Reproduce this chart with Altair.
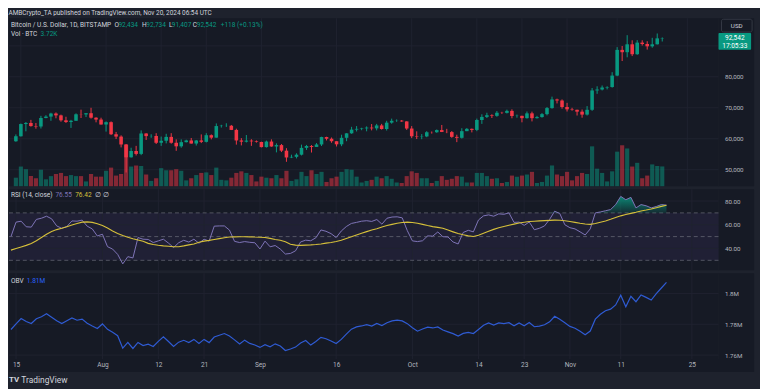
import altair as alt
import pandas as pd

# ---------------- data ----------------
dates = pd.date_range("2024-07-14", "2024-11-20", freq="D").strftime("%Y-%m-%d").tolist()

opens = [59200, 60800, 64750, 65100, 64100, 63950, 66700, 67150, 68150, 67550, 65950, 65400, 65800, 67900, 67850, 68250, 66800, 66200,
         64600, 65350, 61450, 60700, 58150, 54000, 56050, 55100, 61700, 60850, 60900, 58700, 59350, 60600, 58700, 57550, 58900, 59450,
         58450, 59450, 59000, 61150, 60350, 64100, 64200, 64200, 62850, 59450, 59050, 59400, 59150,
         58950, 57300, 59100, 57500, 57950, 56150, 53950, 54150, 54850, 57050, 57650, 57350, 58150, 60550, 60000, 59200, 58200, 60300,
         61750, 62950, 63200, 63350, 63600, 63350, 64300, 63150, 65200, 65800, 65850, 65600,
         63300, 60800, 60650, 60750, 62100, 62100, 62800, 62200, 62150, 60600, 60300, 62450, 63200, 62850, 66050, 67050, 67600, 67400,
         68400, 68350, 69000, 67350, 67400, 66650, 68200, 66650, 67000, 67950, 69900, 72700, 72350,
         70250, 69500, 69350, 68750, 67800, 69350, 75600, 75900, 76550, 76700, 80400, 88700, 87950, 90500, 87300, 91050, 90600, 89850,
         90500, 92434]
highs = [61400, 64900, 65400, 66100, 65100, 67400, 67600, 68400, 68500, 67800, 67100, 66100, 68200, 69400, 68300, 70000, 66950, 66800,
         65600, 65600, 62200, 61100, 58300, 57100, 57700, 62700, 61800, 61450, 61800, 60700, 61600, 61800, 59800, 59800, 59700, 60250,
         59600, 61400, 61800, 61400, 64950, 64500, 65000, 64450, 63250, 60200, 61200, 59850, 59450,
         59050, 59400, 59800, 58500, 58300, 56950, 54850, 55300, 58100, 58000, 57950, 58600, 60650, 60650, 60400, 59200, 61300, 61800,
         63850, 64100, 63550, 64000, 64750, 64800, 64800, 65800, 66500, 66250, 66050, 65650,
         64100, 62400, 61500, 62450, 62350, 63000, 64450, 63200, 62500, 61300, 63400, 63450, 63300, 66500, 67900, 68400, 67900, 68950,
         68700, 69400, 69500, 67800, 67450, 68800, 68750, 67400, 68300, 70250, 73600, 72950, 72700,
         71600, 70000, 69400, 69450, 70550, 76400, 76950, 77200, 76950, 81500, 89600, 89950, 93450, 91800, 91850, 91800, 91500, 92600,
         94000, 92734]
lows = [59000, 60700, 62400, 63900, 63250, 63300, 66600, 65800, 66600, 65500, 65100, 63500, 65800, 66700, 67000, 66500, 65300, 64550,
        62300, 61200, 59900, 57200, 49100, 53900, 54600, 54700, 59600, 60300, 58300, 57700, 58500, 58400, 56100, 57100, 58800, 58400,
        57800, 58600, 58800, 59800, 60350, 63600, 63800, 62800, 58100, 57850, 58800, 57700, 58750,
        57200, 57150, 57400, 55600, 55700, 52550, 53750, 53650, 54600, 56400, 55550, 57350, 57650, 59450, 58700, 57500, 57600, 59200,
        61600, 62350, 62750, 62400, 62700, 62700, 62950, 62650, 64850, 65450, 65450, 62850,
        60200, 59900, 59850, 60500, 61650, 61900, 62150, 61800, 60300, 58900, 60050, 62450, 62050, 62450, 64800, 66700, 66700, 67100,
        68000, 68150, 66600, 66800, 65300, 66500, 65600, 66500, 66800, 67550, 69700, 71400, 69700,
        68800, 69050, 67500, 66800, 67500, 69000, 74500, 75600, 75950, 76500, 80200, 85100, 86300, 86700, 87100, 90100, 88800, 89400,
        90450, 91407]
closes = [60800, 64750, 65100, 64100, 63950, 66700, 67150, 68150, 67550, 65950, 65400, 65800, 67900, 67850, 68250, 66800, 66200, 64600,
          65350, 61450, 60700, 58150, 54000, 56050, 55100, 61700, 60850, 60900, 58700, 59350, 60600, 58700, 57550, 58900, 59450, 58450,
          59450, 59000, 61150, 60350, 64100, 64200, 64220, 62850, 59450, 59050, 59400, 59150, 58950,
          57300, 59100, 57500, 57950, 56150, 53950, 54150, 54850, 57050, 57650, 57350, 58150, 60550, 60000, 59200, 58200, 60300, 61750,
          62950, 63200, 63350, 63600, 63350, 64300, 63150, 65200, 65800, 65850, 65600, 63300,
          60800, 60650, 60750, 62100, 62080, 62800, 62200, 62150, 60600, 60300, 62450, 63200, 62850, 66050, 67050, 67600, 67400, 68400,
          68350, 69000, 67350, 67400, 66650, 68200, 66650, 67000, 67950, 69900, 72700, 72350, 70250,
          69500, 69350, 68750, 67800, 69350, 75600, 75900, 76550, 76700, 80400, 88700, 87950, 90500, 87300, 91050, 90600, 89850, 90500,
          92424, 92542]
volumes_k = [1.6, 3.7, 3.2, 1.9, 1.5, 3.1, 1.3, 1.9, 2.3, 2.5,
             1.9, 2.1, 1.9, 1.9, 0.9, 2.3, 1.8, 1.8, 2.9, 3.5,
             2.0, 2.3, 7.8, 3.7, 3.9, 3.8, 2.2, 1.0, 1.5, 3.4,
             3.0, 3.0, 3.2, 2.9, 1.1, 1.5, 2.1, 2.5, 2.6, 2.1,
             3.5, 1.2, 1.1, 1.6, 2.5, 2.8, 2.5, 2.1, 0.9, 1.8,
             1.6, 1.5, 2.1, 1.5, 2.9, 1.0, 1.3, 2.7, 1.9, 3.0,
             2.3, 2.7, 0.8, 1.5, 1.8, 2.7, 3.2, 3.1, 1.8, 0.7,
             1.0, 1.2, 1.8, 1.5, 1.9, 1.4, 0.7, 0.6, 1.9, 2.8,
             2.5, 1.5, 1.5, 0.6, 1.0, 1.9, 1.2, 1.4, 1.9, 1.8,
             0.7, 0.7, 2.5, 2.5, 1.9, 1.4, 1.5, 0.6, 0.8, 2.0,
             1.8, 2.0, 2.2, 2.7, 0.6, 0.8, 2.0, 3.9, 2.2, 1.9,
             2.7, 1.1, 1.9, 2.5, 2.3, 7.5, 3.3, 2.5, 0.9, 2.8,
             6.5, 7.7, 7.1, 3.7, 4.4, 1.5, 2.0, 4.1, 3.8, 3.72]
rsi = [50.0, 62.2, 63.0, 58.3, 58.0, 64.5, 65.5, 67.2, 65.0, 59.0,
       57.0, 58.5, 63.2, 63.0, 63.9, 58.8, 56.5, 50.5, 52.0, 41.5,
       39.5, 35.0, 27.0, 33.1, 32.0, 49.2, 47.8, 47.6, 45.0, 46.4,
       47.8, 44.5, 40.8, 44.8, 46.9, 45.4, 47.8, 44.4, 47.8, 46.2,
       58.8, 59.0, 59.0, 55.5, 46.0, 45.0, 45.8, 45.2, 44.8, 39.6,
       46.2, 41.4, 42.5, 39.5, 35.3, 35.8, 38.0, 45.5, 47.0, 46.5,
       49.0, 55.6, 54.5, 52.5, 49.2, 54.7, 58.5, 61.1, 62.0, 63.0,
       63.4, 62.8, 64.4, 60.5, 65.5, 66.5, 66.7, 65.8, 55.0, 46.4,
       45.8, 46.5, 50.6, 50.4, 53.9, 49.9, 49.7, 45.5, 43.8, 53.5,
       55.3, 54.0, 64.0, 67.5, 68.3, 67.2, 69.2, 68.8, 70.0, 62.0,
       62.2, 59.5, 62.3, 55.8, 57.0, 59.0, 64.5, 71.4, 69.5, 60.0,
       57.5, 56.5, 54.0, 51.4, 56.5, 70.0, 70.8, 71.8, 72.8, 77.0,
       83.9, 81.1, 83.1, 74.2, 77.0, 76.0, 74.2, 75.4, 77.0, 76.55]
rsi_ma = [38.6, 40.0, 41.3, 42.6, 44.2, 46.5, 49.2, 52.0, 54.3, 55.9,
          57.0, 58.4, 59.7, 61.1, 62.2, 62.4, 62.0, 60.8, 59.3, 57.2,
          54.8, 52.7, 50.9, 49.4, 48.2, 47.2, 46.0, 44.3, 43.3, 42.7,
          42.2, 41.8, 41.4, 41.5, 42.2, 43.0, 43.8, 45.2, 46.2, 46.8,
          47.6, 48.3, 49.0, 49.6, 49.8, 49.9, 49.9, 49.8, 49.6, 49.5,
          49.2, 48.5, 47.6, 46.9, 45.6, 43.6, 42.8, 42.6, 42.8, 43.0,
          43.3, 43.8, 44.5, 45.1, 45.8, 47.0, 48.4, 49.8, 51.4, 52.8,
          54.2, 55.5, 56.6, 58.1, 59.3, 60.3, 61.2, 61.9, 62.2, 61.9,
          61.2, 60.3, 59.3, 58.4, 57.8, 57.0, 55.5, 54.0, 52.6, 51.5,
          50.6, 50.1, 51.2, 52.8, 54.5, 56.1, 57.4, 58.6, 59.6, 60.5,
          61.4, 62.1, 62.7, 63.0, 63.3, 63.5, 63.7, 63.9, 63.8, 63.3,
          62.7, 62.0, 61.2, 60.6, 60.3, 61.0, 62.1, 63.2, 64.6, 66.2,
          67.5, 68.6, 69.6, 70.5, 71.6, 72.4, 73.3, 74.4, 75.5, 76.42]
obv_k = [1776.6, 1780.3, 1783.7, 1781.8, 1780.5, 1783.6, 1784.9, 1786.8, 1784.5, 1782.2,
         1780.4, 1782.3, 1784.1, 1782.6, 1783.3, 1780.6, 1778.9, 1777.3, 1780.2, 1776.7,
         1774.8, 1772.6, 1764.5, 1768.2, 1764.3, 1768.2, 1766.2, 1767.1, 1765.6, 1768.9,
         1771.9, 1768.8, 1765.6, 1768.4, 1769.6, 1768.2, 1770.2, 1767.6, 1770.2, 1768.1,
         1771.7, 1772.9, 1774.0, 1772.4, 1769.9, 1767.2, 1769.7, 1767.6, 1766.6, 1765.0,
         1766.8, 1765.4, 1767.3, 1765.9, 1763.0, 1764.0, 1765.2, 1767.8, 1769.5, 1766.5,
         1768.8, 1771.5, 1770.6, 1769.1, 1767.5, 1770.2, 1773.6, 1776.8, 1778.3, 1778.9,
         1779.8, 1778.8, 1780.5, 1779.2, 1781.0, 1782.2, 1782.7, 1782.2, 1780.4, 1777.8,
         1775.5, 1776.9, 1778.1, 1777.6, 1778.3, 1776.3, 1775.1, 1773.9, 1772.4, 1774.1,
         1774.7, 1774.0, 1776.6, 1779.3, 1780.9, 1779.5, 1780.9, 1780.4, 1781.0, 1779.0,
         1780.9, 1779.0, 1781.1, 1778.4, 1778.8, 1779.7, 1781.6, 1785.2, 1783.2, 1781.0,
         1778.6, 1777.4, 1775.5, 1773.2, 1775.6, 1783.3, 1786.5, 1788.8, 1789.8, 1792.5,
         1798.8, 1791.3, 1798.1, 1794.6, 1799.0, 1797.4, 1795.7, 1799.9, 1803.5, 1807.2]

x_tick_dates = ["2024-07-15", "2024-08-01", "2024-08-12", "2024-08-21", "2024-09-01", "2024-09-16",
                "2024-10-01", "2024-10-14", "2024-10-23", "2024-11-01", "2024-11-11", "2024-11-25"]
price_ticks = [50000, 60000, 70000, 80000, 90000]
rsi_ticks = [40, 60, 80]
rsi_levels = [70, 50, 30]
obv_ticks = [1.76, 1.78, 1.80]
countdown = "17:05:33"
header = "AMBCrypto_TA published on TradingView.com, Nov 20, 2024 06:54 UTC"

# ---------------- style ----------------
FONT = "Roboto"
BG = "#161a25"
FRAME = "#1e222d"
GREEN = "#089981"
RED = "#f23645"
TXT = "#d1d4dc"
AXTXT = "#b2b5be"
GRID = "#1f2330"
RSI_C = "#7f75b8"
MA_C = "#d6c03a"
OBV_C = "#2f5bd3"
FS = 6.6

W = 718
AXW = 36
H_PRICE, H_RSI, H_OBV = 170, 82, 87


def ms(s):
    return int(pd.Timestamp(s, tz="UTC").value // 10**6)


x_scale = alt.Scale(type="utc", domain=[ms("2024-07-13 14:40"), ms("2024-11-30 05:45")])
X = alt.X("date:T", scale=x_scale, axis=None)

df = pd.DataFrame({"date": dates, "open": opens, "high": highs, "low": lows, "close": closes,
                   "vol": volumes_k, "rsi": rsi, "ma": rsi_ma, "obv": [v / 1000 for v in obv_k]})
ONE = pd.DataFrame({"k": [0]})
ticks_df = pd.DataFrame({"date": x_tick_dates})

updown = alt.condition("datum.close >= datum.open", alt.value(GREEN), alt.value(RED))


def txt(s, x, y, color=TXT, size=FS, align="left", weight="normal"):
    return alt.Chart(ONE).mark_text(text=s, align=align, baseline="middle", color=color, fontSize=size,
                                    font=FONT, fontWeight=weight).encode(x=alt.value(x), y=alt.value(y))


def column_rect(h):
    return alt.Chart(ONE).mark_rect(color=BG).encode(
        x=alt.value(W), x2=alt.value(W + AXW), y=alt.value(0), y2=alt.value(h))


def vgrid():
    return alt.Chart(ticks_df).mark_rule(color=GRID, strokeWidth=1).encode(x=X)


def right_axis(values, expr):
    return alt.Axis(orient="right", values=values, labelExpr=expr, grid=False, ticks=False, domain=False,
                    labelColor=AXTXT, labelFontSize=6.3, labelFont=FONT, labelPadding=6, labelAlign="left",
                    labelBaseline="middle", title=None, zindex=1)


# ---------------- price panel ----------------
p_scale = alt.Scale(domain=[44670, 98930], nice=False, zero=False)
p_axis = right_axis(price_ticks, "datum.value >= 90000 ? '' : format(datum.value, ',')")

hgrid_p = alt.Chart(pd.DataFrame({"p": price_ticks})).mark_rule(color=GRID, strokeWidth=1).encode(
    y=alt.Y("p:Q", scale=p_scale, axis=p_axis))
vol_bars = alt.Chart(df).mark_bar(size=4.2, opacity=0.5).encode(
    x=X, y=alt.Y("vol:Q", scale=alt.Scale(domain=[0, 31.6], nice=False, zero=True), axis=None), color=updown)
wicks = alt.Chart(df).mark_rule(strokeWidth=1).encode(
    x=X, y=alt.Y("low:Q", scale=p_scale, axis=None), y2="high:Q", color=updown)
bodies = alt.Chart(df).mark_bar(size=3.6).encode(
    x=X, y=alt.Y("open:Q", scale=p_scale, axis=None), y2="close:Q", color=updown)

last = pd.DataFrame({"price": [closes[-1]], "lbl": [f"{closes[-1]:,}"], "cd": [countdown]})
tag_rect = alt.Chart(last).mark_rect(color=GREEN, yOffset=-5, y2Offset=12, cornerRadius=1).encode(
    x=alt.value(W), x2=alt.value(W + 33), y=alt.Y("price:Q", scale=p_scale, axis=None), y2="price:Q")
tag_t1 = alt.Chart(last).mark_text(color="#ffffff", fontSize=FS, font=FONT, align="center", baseline="middle",
                                   dy=0.5).encode(
    x=alt.value(W + 16.5), y=alt.Y("price:Q", scale=p_scale, axis=None), text="lbl:N")
tag_t2 = alt.Chart(last).mark_text(color="#ffffff", fontSize=FS, font=FONT, align="center", baseline="middle",
                                   dy=8.5).encode(
    x=alt.value(W + 16.5), y=alt.Y("price:Q", scale=p_scale, axis=None), text="cd:N")
usd_rect = alt.Chart(ONE).mark_rect(fill=BG, stroke="#363a45", strokeWidth=1, cornerRadius=2).encode(
    x=alt.value(W + 3), x2=alt.value(W + 34), y=alt.value(1), y2=alt.value(14))

chg = closes[-1] - closes[-2]
pct = chg / closes[-2] * 100
legend_p = [
    txt("Bitcoin / U.S. Dollar, 1D, BITSTAMP", 2, 6.7),
    txt("O", 106.7, 6.7), txt(f"{opens[-1]:,}", 110.7, 6.7, GREEN),
    txt("H", 134.7, 6.7), txt(f"{highs[-1]:,}", 139, 6.7, GREEN),
    txt("L", 162, 6.7), txt(f"{lows[-1]:,}", 164.7, 6.7, GREEN),
    txt("C", 186, 6.7), txt(f"{closes[-1]:,}", 190, 6.7, GREEN),
    txt(f"{chg:+,} ({pct:+.2f}%)", 214.3, 6.7, GREEN),
    txt("Vol · BTC", 2, 16.3), txt(f"{volumes_k[-1]:.2f}K", 32, 16.3, GREEN),
    txt("USD", W + 18.5, 7.5, TXT, 6.3, "center"),
]

price_panel = alt.layer(
    column_rect(H_PRICE), vgrid(), hgrid_p, vol_bars, wicks, bodies, tag_rect, tag_t1, tag_t2, usd_rect,
    *legend_p
).resolve_scale(y="independent").properties(width=W, height=H_PRICE)

# ---------------- RSI panel ----------------
r_scale = alt.Scale(domain=[21.67, 90], nice=False, zero=False)
r_axis = right_axis(rsi_ticks, "format(datum.value, '.2f')")

band = alt.Chart(pd.DataFrame({"hi": [rsi_levels[0]], "lo": [rsi_levels[-1]]})).mark_rect(
    color="#7e57c2", opacity=0.1).encode(y=alt.Y("hi:Q", scale=r_scale, axis=None), y2="lo:Q")
hgrid_r = alt.Chart(pd.DataFrame({"v": rsi_ticks})).mark_rule(color=GRID, strokeWidth=1).encode(
    y=alt.Y("v:Q", scale=r_scale, axis=r_axis))
levels = alt.Chart(pd.DataFrame({"v": rsi_levels})).mark_rule(
    color="#787b86", opacity=0.6, strokeWidth=1, strokeDash=[4, 3]).encode(
    y=alt.Y("v:Q", scale=r_scale, axis=None))
ob_fill = alt.Chart(df).transform_calculate(
    ob=f"max(datum.rsi, {rsi_levels[0]})", base=f"{rsi_levels[0]}"
).mark_area(color=alt.Gradient(gradient="linear",
                               stops=[alt.GradientStop(color="rgba(8,153,129,0.85)", offset=0),
                                      alt.GradientStop(color="rgba(8,153,129,0.15)", offset=1)],
                               x1=1, x2=1, y1=0, y2=1)).encode(
    x=X, y=alt.Y("ob:Q", scale=r_scale, axis=None), y2="base:Q")
rsi_line = alt.Chart(df).mark_line(color=RSI_C, strokeWidth=1).encode(
    x=X, y=alt.Y("rsi:Q", scale=r_scale, axis=None))
ma_line = alt.Chart(df).mark_line(color=MA_C, strokeWidth=1.1).encode(
    x=X, y=alt.Y("ma:Q", scale=r_scale, axis=None))
legend_r = [
    txt("RSI (14, close)", 2, 5.5),
    txt(f"{rsi[-1]:.2f}", 47, 5.5, "#7e74b5"),
    txt(f"{rsi_ma[-1]:.2f}", 67, 5.5, MA_C),
    txt("∅", 87, 5.5, TXT), txt("∅", 95.3, 5.5, TXT),
]
rsi_panel = alt.layer(
    column_rect(H_RSI), band, vgrid(), hgrid_r, levels, ob_fill, rsi_line, ma_line, *legend_r
).resolve_scale(x="independent", y="independent").properties(width=W, height=H_RSI)

# ---------------- OBV panel ----------------
o_scale = alt.Scale(domain=[1.7574, 1.8131], nice=False, zero=False)
o_axis = right_axis(obv_ticks, "format(datum.value, '.2~f') + 'M'")
x_axis = alt.Axis(values=[ms(d) for d in x_tick_dates],
                  labelExpr="utcdate(datum.value) == 1 ? utcFormat(datum.value, '%b') : '' + utcdate(datum.value)",
                  grid=False, ticks=False, domain=False, labelColor=AXTXT, labelFontSize=FS, labelFont=FONT,
                  labelPadding=2, labelOverlap=False, labelFlush=False,
                  title="TradingView", titleX=12, titleY=21, titleAlign="left", titleAnchor="start",
                  titleBaseline="middle", titleFontSize=8.5, titleFontWeight="normal", titleColor=TXT,
                  titleFont=FONT, zindex=1)

bottom_rect = alt.Chart(ONE).mark_rect(color=BG).encode(
    x=alt.value(0), x2=alt.value(W + AXW), y=alt.value(H_OBV), y2=alt.value(H_OBV + 13))
hgrid_o = alt.Chart(pd.DataFrame({"v": obv_ticks})).mark_rule(color=GRID, strokeWidth=1).encode(
    y=alt.Y("v:Q", scale=o_scale, axis=o_axis))
obv_line = alt.Chart(df).mark_line(color=OBV_C, strokeWidth=1.2).encode(
    x=alt.X("date:T", scale=x_scale, axis=x_axis), y=alt.Y("obv:Q", scale=o_scale, axis=None))
legend_o = [
    txt("OBV", 2, 8.3),
    txt(f"{obv_k[-1] / 1000:.2f}M", 18, 8.3, "#2962ff"),
    txt("TV", 0, H_OBV + 21, TXT, 8, "left", "bold"),
]
obv_panel = alt.layer(
    column_rect(H_OBV), bottom_rect, vgrid(), hgrid_o, obv_line, *legend_o
).resolve_scale(x="independent", y="independent").properties(width=W, height=H_OBV)

chart = alt.vconcat(price_panel, rsi_panel, obv_panel, spacing=1).resolve_scale(
    x="independent", y="independent"
).properties(
    title=alt.Title(header, anchor="start", fontSize=6.5, color=TXT, font=FONT, fontWeight="normal", offset=1),
    padding={"left": 0, "top": 0, "right": 6, "bottom": 12},
    background=FRAME,
).configure_view(fill=BG, strokeWidth=0)

chart.save("out.html", embed_options={"renderer": "svg", "actions": False})
